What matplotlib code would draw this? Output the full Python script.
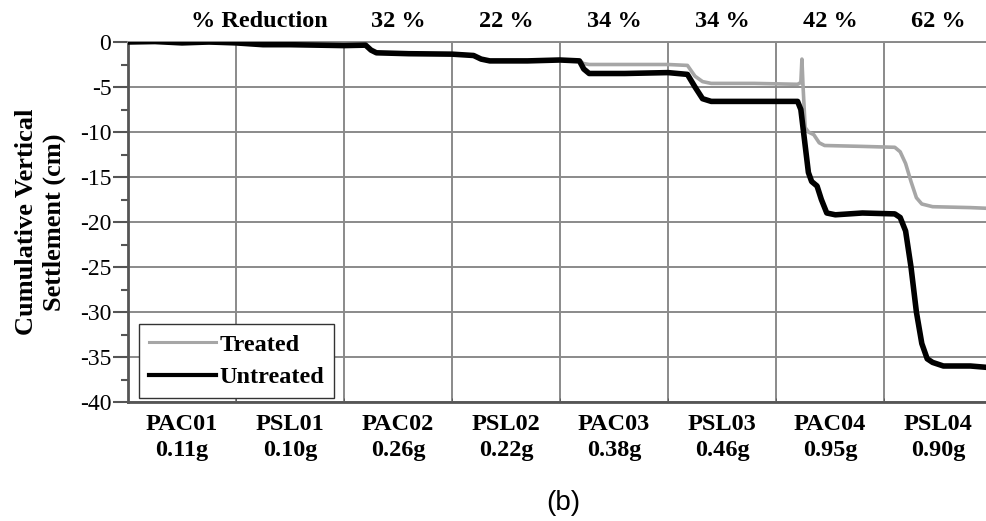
import numpy as np
import matplotlib.pyplot as plt

plt.rcParams['font.family'] = ['Liberation Serif', 'DejaVu Serif']
plt.rcParams['axes.unicode_minus'] = False

# test names / peak accelerations (one segment each)
tests = ['PAC01', 'PSL01', 'PAC02', 'PSL02', 'PAC03', 'PSL03', 'PAC04', 'PSL04']
pga = ['0.11g', '0.10g', '0.26g', '0.22g', '0.38g', '0.46g', '0.95g', '0.90g']
reduction = ['32 %', '22 %', '34 %', '34 %', '42 %', '62 %']

# (test progress, settlement cm)
untreated = [
    (0.0, 0.0), (0.25, 0.05), (0.5, -0.1), (0.75, 0.0), (1.0, -0.1),
    (1.25, -0.3), (1.5, -0.3), (1.75, -0.35), (2.0, -0.4), (2.2, -0.35),
    (2.25, -0.9), (2.3, -1.2), (2.6, -1.3), (3.0, -1.35), (3.2, -1.5),
    (3.27, -1.9), (3.35, -2.1), (3.7, -2.1), (4.0, -2.0), (4.18, -2.1),
    (4.22, -3.0), (4.27, -3.5), (4.6, -3.5), (5.0, -3.4), (5.18, -3.6),
    (5.25, -5.0), (5.32, -6.3), (5.4, -6.6), (5.8, -6.6), (6.2, -6.6),
    (6.23, -7.5), (6.26, -10.5), (6.3, -14.5), (6.33, -15.5), (6.38, -16.0),
    (6.42, -17.5), (6.47, -19.0), (6.55, -19.2), (6.8, -19.0), (7.1, -19.1),
    (7.15, -19.5), (7.2, -21.0), (7.25, -25.0), (7.3, -30.0), (7.35, -33.5),
    (7.4, -35.2), (7.45, -35.6), (7.55, -36.0), (7.8, -36.0), (8.0, -36.2),
]
treated = [
    (0.0, 0.0), (1.0, -0.1), (2.0, -0.4), (2.2, -0.35), (2.25, -0.9),
    (2.3, -1.2), (3.0, -1.35), (3.2, -1.5), (3.27, -1.9), (3.35, -2.1),
    (4.0, -2.0), (4.18, -2.1), (4.22, -2.4), (4.27, -2.5), (4.6, -2.5),
    (5.0, -2.5), (5.18, -2.6), (5.25, -3.8), (5.32, -4.4), (5.4, -4.6),
    (5.8, -4.6), (6.2, -4.7), (6.23, -4.5), (6.24, -1.9), (6.25, -4.8),
    (6.27, -9.5), (6.3, -10.0), (6.35, -10.3), (6.4, -11.2), (6.45, -11.5),
    (6.8, -11.6), (7.1, -11.7), (7.15, -12.2), (7.2, -13.5), (7.25, -15.5),
    (7.3, -17.3), (7.35, -18.0), (7.45, -18.3), (7.8, -18.4), (8.0, -18.5),
]

tx, ty = np.array(treated).T
ux, uy = np.array(untreated).T

fig = plt.figure(figsize=(9.86, 5.21), dpi=100)
ax = fig.add_axes([128 / 986, 119 / 521, 864 / 986, 360 / 521])

ax.plot(tx, ty, color='#a6a6a6', lw=2.6, label='Treated', zorder=3)
ax.plot(ux, uy, color='black', lw=4.0, label='Untreated', zorder=4)

ax.set_xlim(0, 8)
ax.set_ylim(-40, 0)

ax.set_xticks(np.arange(len(tests)) + 0.5)
ax.set_xticklabels([f'{t}\n{g}' for t, g in zip(tests, pga)],
                   fontsize=17.5, fontweight='bold', linespacing=1.3)
ax.set_xticks(np.arange(0, 9), minor=True)
ax.set_yticks(np.arange(-40, 1, 5))
ax.set_yticks(np.arange(-37.5, 0, 5), minor=True)

ax.tick_params(axis='x', which='major', length=0, pad=9)
ax.tick_params(axis='x', which='minor', length=3, direction='in', color='#555555')
ax.tick_params(axis='y', which='major', length=11, width=1.5, color='#555555',
               labelsize=17, pad=1)
ax.tick_params(axis='y', which='minor', length=5, width=1.5, color='#555555')

ax.xaxis.grid(True, which='minor', color='#8a8a8a', lw=1.4)
ax.yaxis.grid(True, which='major', color='#8a8a8a', lw=1.4)
ax.set_axisbelow(True)

for side in ['left', 'bottom']:
    ax.spines[side].set_color('#555555')
    ax.spines[side].set_linewidth(2)
ax.spines['top'].set_color('#8a8a8a')
ax.spines['top'].set_linewidth(1.4)
ax.spines['right'].set_visible(False)

ax.set_ylabel('Cumulative Vertical\nSettlement (cm)', fontsize=19,
              fontweight='bold', linespacing=1.25)
ax.yaxis.set_label_coords(-0.072, 0.5)

ax.text(1.22, 2.3, '% Reduction', fontsize=17.5, fontweight='bold',
        ha='center', va='center', clip_on=False)
for k, lab in enumerate(reduction):
    ax.text(k + 2.5, 2.3, lab, fontsize=17.5, fontweight='bold',
            ha='center', va='center', clip_on=False)

leg = ax.legend(loc='lower left', bbox_to_anchor=(0.013, 0.01), borderaxespad=0,
                fancybox=False, framealpha=1, edgecolor='#333333',
                prop={'size': 17.5, 'weight': 'bold'}, handlelength=2.75,
                handletextpad=0.12, borderpad=0.42, labelspacing=0.42)
leg.get_frame().set_linewidth(1.0)
for line in leg.get_lines():
    line.set_linewidth(3.0 if line.get_color() == 'black' else 2.2)

fig.text(563 / 986, 1 - 503 / 521, '(b)', fontsize=20, ha='center', va='center',
         family='Liberation Sans')

fig.savefig('out.png', dpi=100)
